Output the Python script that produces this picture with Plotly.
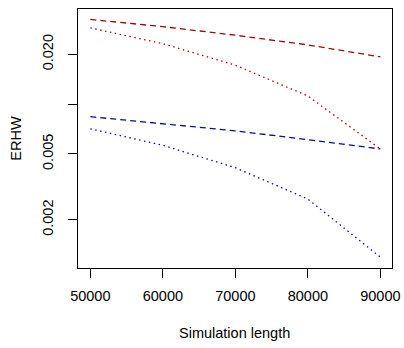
import plotly.graph_objects as go

sim_length = [50000, 60000, 70000, 80000, 90000]
red_dashed = [0.0325, 0.0294, 0.0261, 0.0228, 0.0193]
red_dotted = [0.0289, 0.0232, 0.0172, 0.0112, 0.00536]
blue_dashed = [0.0084, 0.0076, 0.0069, 0.0061, 0.00536]
blue_dotted = [0.0071, 0.00564, 0.00413, 0.00267, 0.00119]

x_ticks = [50000, 60000, 70000, 80000, 90000]
x_ticktext = ["50000", "60000", "70000", "80000", "90000"]
y_ticks = [0.002, 0.005, 0.01, 0.02]
y_ticktext = ["0.002", "0.005", "", "0.020"]
x_title = "Simulation length"
y_title = "ERHW"

RED = "#9b0a0a"
BLUE = "#0a0a9b"
DASH = "6px,4px"
DOT = "1.5px,3.5px"

fig = go.Figure()
for y, c, d in [(red_dashed, RED, DASH), (red_dotted, RED, DOT),
                (blue_dashed, BLUE, DASH), (blue_dotted, BLUE, DOT)]:
    fig.add_trace(go.Scatter(x=sim_length, y=y, mode="lines",
                             line=dict(color=c, width=1.3, dash=d),
                             showlegend=False, hoverinfo="skip"))

font = dict(family="Liberation Sans, Arial, Helvetica, sans-serif", size=14.5, color="black")

fig.update_layout(
    width=404, height=348,
    margin=dict(l=78, r=12, t=9, b=80, autoexpand=False),
    paper_bgcolor="white", plot_bgcolor="white",
    font=font,
    xaxis=dict(
        range=[48300, 91600], tickvals=x_ticks, ticktext=x_ticktext,
        showgrid=False, zeroline=False, showline=True, mirror=True,
        linecolor="black", linewidth=1, ticks="outside", ticklen=9,
        tickcolor="black", tickwidth=1, tickfont=font, tickangle=0,
        ticklabelstandoff=6, automargin=False,
    ),
    yaxis=dict(
        type="log", range=[-2.99, -1.425], tickvals=y_ticks, ticktext=y_ticktext,
        showgrid=False, zeroline=False, showline=True, mirror=True,
        linecolor="black", linewidth=1, ticks="outside", ticklen=9,
        tickcolor="black", tickwidth=1, tickangle=-90, tickfont=font,
        ticklabelstandoff=9, automargin=False,
    ),
    annotations=[
        dict(text=x_title, xref="paper", yref="paper", x=0.498, y=-0.25,
             xanchor="center", yanchor="middle", showarrow=False, font=font),
        dict(text=y_title, xref="paper", yref="paper", x=-0.2, y=0.5,
             xanchor="center", yanchor="middle", showarrow=False, font=font,
             textangle=-90),
    ],
)

fig.write_html(
    "out.html",
    config={"displayModeBar": False},
    post_script="document.body.style.margin='0';document.body.style.overflow='hidden';",
)
